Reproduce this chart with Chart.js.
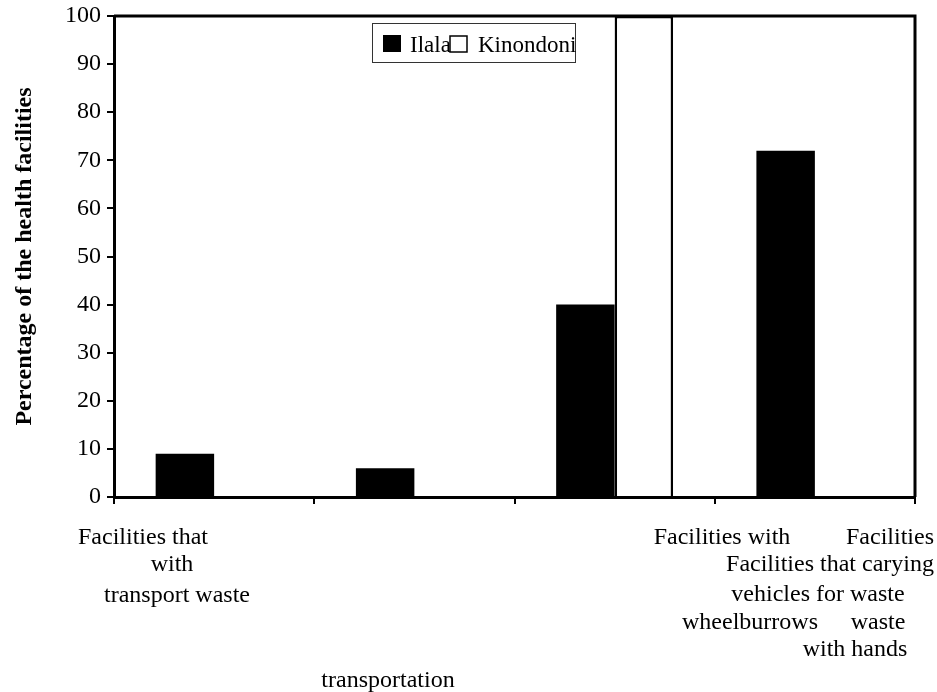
<!DOCTYPE html>
<html>
<head>
<meta charset="utf-8">
<script src="https://cdn.jsdelivr.net/npm/chart.js@4/dist/chart.umd.min.js"></script>
<style>
  html, body { margin: 0; padding: 0; background: #fff; }
  #wrap { width: 937px; height: 692px; }
</style>
</head>
<body>
<div id="wrap"><canvas id="chart" width="937" height="692"></canvas></div>
<script>
const categories = [
  "Facilities that transport waste",
  "Facilities with vehicles for waste transportation",
  "Facilities with wheelburrows",
  "Facilities carying waste with hands"
];
const ilala = [9, 6, 40, 72];
const kinondoni = [0, 0, 100, 0];
const yTicks = [0, 10, 20, 30, 40, 50, 60, 70, 80, 90, 100];
const yTitle = "Percentage of the health facilities";

// category text exactly as it is laid out under the axis
const xLabelText = [
  "Facilities that", "with", "transport waste", "transportation",
  "Facilities with", "Facilities", "Facilities that carying",
  "vehicles for waste", "wheelburrows", "waste", "with hands"
];
const xLabelPos = [
  [143, 544], [172, 571], [177, 602], [388, 687],
  [722, 544], [890, 544], [830, 571],
  [818, 601], [750, 629], [878, 629], [855, 656]
];

const FONT = '"Liberation Serif", "Times New Roman", serif';

const extras = {
  id: 'extras',
  afterDatasetsDraw(chart) {
    const { ctx, chartArea: a } = chart;
    ctx.save();
    ctx.strokeStyle = '#000';
    ctx.lineWidth = 3;
    ctx.beginPath();
    ctx.moveTo(a.left, a.top);
    ctx.lineTo(a.right, a.top);
    ctx.lineTo(a.right, a.bottom);
    ctx.stroke();
    ctx.restore();
  },
  afterDraw(chart) {
    const { ctx } = chart;
    ctx.save();
    ctx.font = '24px ' + FONT;
    ctx.fillStyle = '#000';
    ctx.textAlign = 'center';
    ctx.textBaseline = 'alphabetic';
    xLabelText.forEach((t, i) => ctx.fillText(t, xLabelPos[i][0], xLabelPos[i][1]));

    // legend box
    ctx.fillStyle = '#fff';
    ctx.fillRect(372, 23, 203, 39);
    ctx.strokeStyle = '#333';
    ctx.lineWidth = 1;
    ctx.strokeRect(372.5, 23.5, 203, 39);
    const ds = chart.data.datasets;
    ctx.textAlign = 'left';
    ctx.font = '23px ' + FONT;
    // Ilala marker
    ctx.fillStyle = ds[0].backgroundColor;
    ctx.fillRect(383, 35, 18, 17);
    ctx.fillStyle = '#000';
    ctx.fillText(ds[0].label, 410, 52);
    // Kinondoni marker
    ctx.fillStyle = ds[1].backgroundColor;
    ctx.fillRect(450, 36, 17, 16);
    ctx.strokeStyle = '#000';
    ctx.lineWidth = 1.5;
    ctx.strokeRect(450, 36, 17, 16);
    ctx.fillStyle = '#000';
    ctx.fillText(ds[1].label, 478, 52);
    ctx.restore();
  }
};

new Chart(document.getElementById('chart').getContext('2d'), {
  type: 'bar',
  data: {
    labels: categories,
    datasets: [
      {
        label: 'Ilala',
        data: ilala,
        backgroundColor: '#000',
        borderWidth: 0,
        categoryPercentage: 0.584,
        barPercentage: 1
      },
      {
        label: 'Kinondoni',
        data: kinondoni,
        backgroundColor: '#fff',
        borderColor: '#000',
        borderWidth: 2.5,
        categoryPercentage: 0.584,
        barPercentage: 1
      }
    ]
  },
  options: {
    responsive: false,
    animation: false,
    layout: { padding: { top: 16, right: 22, left: 0, bottom: 0 } },
    plugins: {
      legend: { display: false },
      tooltip: { enabled: false }
    },
    scales: {
      x: {
        grid: { display: true, drawOnChartArea: false, drawTicks: true, tickLength: 7, color: '#000', lineWidth: 2, offset: true },
        border: { display: true, color: '#000', width: 3 },
        ticks: { display: false },
        afterFit: s => { s.height = 195; }
      },
      y: {
        min: 0,
        max: 100,
        afterBuildTicks: s => { s.ticks = yTicks.map(v => ({ value: v })); },
        ticks: { color: '#000', font: { family: FONT, size: 24 }, padding: 6 },
        grid: { drawOnChartArea: false, tickLength: 7, color: '#000', lineWidth: 2 },
        border: { display: true, color: '#000', width: 3 },
        title: {
          display: true,
          text: yTitle,
          color: '#000',
          font: { family: FONT, size: 24, weight: 'bold' },
          padding: { top: 10, bottom: 0 }
        },
        afterFit: s => { s.width = 114; s.paddingTop = 0; s.paddingBottom = 0; }
      }
    }
  },
  plugins: [extras]
});
</script>
</body>
</html>
